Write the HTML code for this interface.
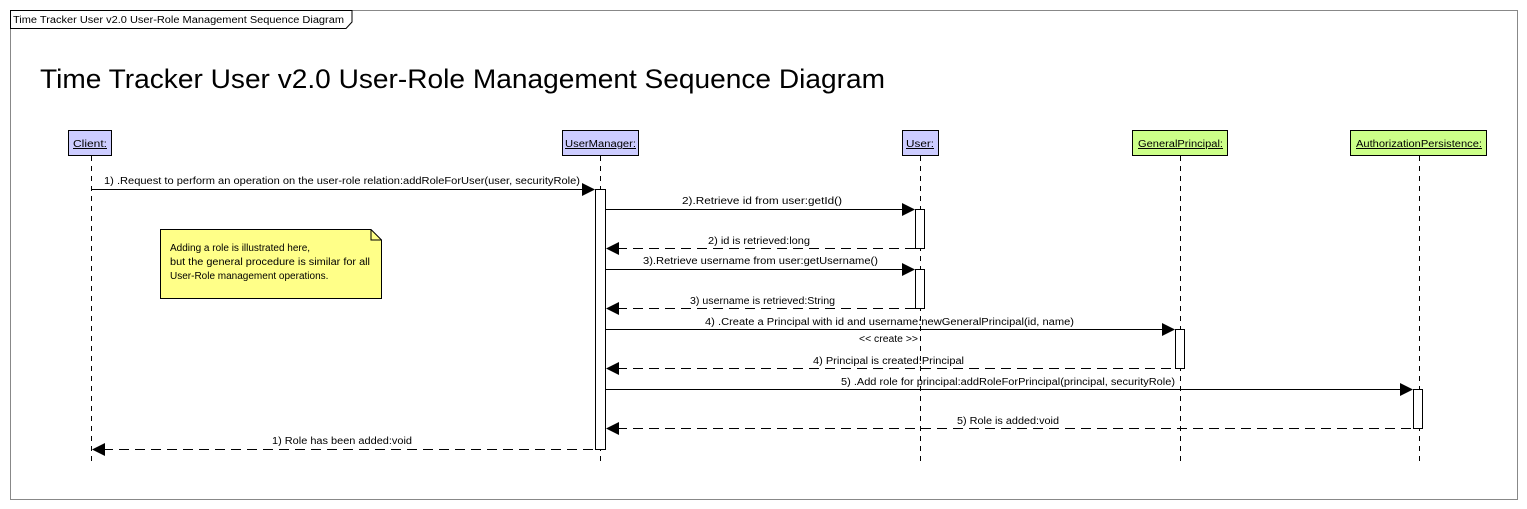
<!DOCTYPE html>
<html><head><meta charset="utf-8"><style>
html,body{margin:0;padding:0;background:#fff;width:1527px;height:509px;overflow:hidden}
svg{display:block}
text{font-family:"Liberation Sans",Arial,sans-serif;font-size:10px;fill:#000}
</style></head><body>
<svg width="1527" height="509" viewBox="0 0 1527 509" xmlns="http://www.w3.org/2000/svg">
<rect x="10.5" y="10.5" width="1507" height="489" fill="#fff" stroke="#888"/>
<path d="M10.5 10.5 H352 V22 L346 28.5 H10.5 Z" fill="#fff" stroke="#000"/>
<text x="13" y="23" textLength="331" lengthAdjust="spacingAndGlyphs">Time Tracker User v2.0 User-Role Management Sequence Diagram</text>
<text x="40" y="88" style="font-size:27px" textLength="845" lengthAdjust="spacingAndGlyphs">Time Tracker User v2.0 User-Role Management Sequence Diagram</text>

<g stroke="#000" stroke-dasharray="5,5" fill="none">
<line x1="91.5" y1="156" x2="91.5" y2="465"/>
<line x1="600.5" y1="156" x2="600.5" y2="465"/>
<line x1="920.5" y1="156" x2="920.5" y2="465"/>
<line x1="1180.5" y1="156" x2="1180.5" y2="465"/>
<line x1="1419.5" y1="156" x2="1419.5" y2="465"/>
</g>

<rect x="68.5" y="130.5" width="43" height="25" fill="#ccccff" stroke="#000"/>
<text x="73" y="147" text-decoration="underline" textLength="34" lengthAdjust="spacingAndGlyphs">Client:</text>
<rect x="562.5" y="130.5" width="76" height="25" fill="#ccccff" stroke="#000"/>
<text x="565" y="147" text-decoration="underline" textLength="71" lengthAdjust="spacingAndGlyphs">UserManager:</text>
<rect x="902.5" y="130.5" width="36" height="25" fill="#ccccff" stroke="#000"/>
<text x="906" y="147" text-decoration="underline" textLength="28" lengthAdjust="spacingAndGlyphs">User:</text>
<rect x="1132.5" y="130.5" width="95" height="25" fill="#ccff88" stroke="#000"/>
<text x="1138" y="147" text-decoration="underline" textLength="85" lengthAdjust="spacingAndGlyphs">GeneralPrincipal:</text>
<rect x="1350.5" y="130.5" width="136" height="25" fill="#ccff88" stroke="#000"/>
<text x="1356" y="147" text-decoration="underline" textLength="126" lengthAdjust="spacingAndGlyphs">AuthorizationPersistence:</text>

<path d="M160.5 229.5 H371 L381.5 240 V298.5 H160.5 Z" fill="#ffff88" stroke="#000"/>
<path d="M371 229.5 V240 H381.5" fill="none" stroke="#000"/>
<text x="170" y="251">Adding a role is illustrated here,</text>
<text x="170" y="265" textLength="200" lengthAdjust="spacingAndGlyphs">but the general procedure is similar for all</text>
<text x="170" y="279">User-Role management operations.</text>

<g fill="#fff" stroke="#000">
<rect x="595.5" y="189.5" width="10" height="260"/>
<rect x="915.5" y="209.5" width="9" height="39"/>
<rect x="915.5" y="269.5" width="9" height="39"/>
<rect x="1175.5" y="329.5" width="9" height="39"/>
<rect x="1413.5" y="389.5" width="9" height="39"/>
</g>

<g stroke="#000" fill="none">
<line x1="91" y1="189.5" x2="583" y2="189.5"/>
<line x1="605" y1="209.5" x2="903" y2="209.5"/>
<line x1="605" y1="269.5" x2="903" y2="269.5"/>
<line x1="605" y1="329.5" x2="1163" y2="329.5"/>
<line x1="605" y1="389.5" x2="1401" y2="389.5"/>
<g stroke-dasharray="10,6">
<line x1="617" y1="248.5" x2="915" y2="248.5"/>
<line x1="617" y1="308.5" x2="915" y2="308.5"/>
<line x1="617" y1="368.5" x2="1175" y2="368.5"/>
<line x1="617" y1="428.5" x2="1413" y2="428.5"/>
<line x1="103" y1="449.5" x2="595" y2="449.5"/>
</g>
</g>
<g fill="#000">
<path d="M582 183 L595 189.5 L582 196 Z"/>
<path d="M902 203 L915 209.5 L902 216 Z"/>
<path d="M902 263 L915 269.5 L902 276 Z"/>
<path d="M1162 323 L1175 329.5 L1162 336 Z"/>
<path d="M1400 383 L1413 389.5 L1400 396 Z"/>
<path d="M619 242 L606 248.5 L619 255 Z"/>
<path d="M619 302 L606 308.5 L619 315 Z"/>
<path d="M619 362 L606 368.5 L619 375 Z"/>
<path d="M619 422 L606 428.5 L619 435 Z"/>
<path d="M105 443 L92 449.5 L105 456 Z"/>
</g>

<g style="font-size:10.5px">
<text x="104" y="184" textLength="476" lengthAdjust="spacingAndGlyphs">1) .Request to perform an operation on the user-role relation:addRoleForUser(user, securityRole)</text>
<text x="682" y="204" textLength="160" lengthAdjust="spacingAndGlyphs">2).Retrieve id from user:getId()</text>
<text x="708" y="244" textLength="102" lengthAdjust="spacingAndGlyphs">2) id is retrieved:long</text>
<text x="643" y="264" textLength="235" lengthAdjust="spacingAndGlyphs">3).Retrieve username from user:getUsername()</text>
<text x="690" y="304" textLength="145" lengthAdjust="spacingAndGlyphs">3) username is retrieved:String</text>
<text x="705" y="325" textLength="369" lengthAdjust="spacingAndGlyphs">4) .Create a Principal with id and username:newGeneralPrincipal(id, name)</text>
<text x="859" y="342" textLength="59" lengthAdjust="spacingAndGlyphs">&lt;&lt; create &gt;&gt;</text>
<text x="813" y="364" textLength="151" lengthAdjust="spacingAndGlyphs">4) Principal is created:Principal</text>
<text x="841" y="385" textLength="334" lengthAdjust="spacingAndGlyphs">5) .Add role for principal:addRoleForPrincipal(principal, securityRole)</text>
<text x="957" y="424" textLength="102" lengthAdjust="spacingAndGlyphs">5) Role is added:void</text>
<text x="272" y="444" textLength="140" lengthAdjust="spacingAndGlyphs">1) Role has been added:void</text>
</g>
</svg>
</body></html>
